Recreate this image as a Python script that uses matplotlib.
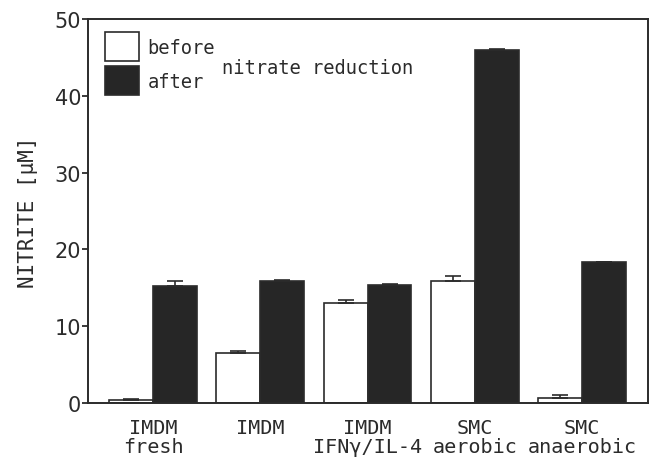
import numpy as np
import matplotlib
matplotlib.use("Agg")
import matplotlib.pyplot as plt
from matplotlib.patches import Patch

groups = ["IMDM\nfresh", "IMDM", "IMDM\nIFNγ/IL-4", "SMC\naerobic", "SMC\nanaerobic"]
before = [0.4, 6.5, 13.0, 15.9, 0.7]
before_err = [0.15, 0.3, 0.35, 0.6, 0.3]
after = [15.2, 15.9, 15.4, 45.9, 18.3]
after_err = [0.7, 0.1, 0.1, 0.15, 0.1]

ink = "#2b2b2b"
mono = "DejaVu Sans Mono"

fig = plt.figure(figsize=(6.53, 4.60), dpi=100)
ax = fig.add_axes([0.1348, 0.1217, 0.8575, 0.8348])

x = np.arange(len(groups))
w = 0.41

ax.bar(x - w / 2, before, width=w, color="white", edgecolor=ink, linewidth=1.2,
       yerr=[np.zeros(len(before)), before_err],
       error_kw=dict(ecolor=ink, elinewidth=1.2, capsize=6, capthick=1.2))
ax.bar(x + w / 2, after, width=w, color="#262626", edgecolor=ink, linewidth=1.2,
       yerr=[np.zeros(len(after)), after_err],
       error_kw=dict(ecolor=ink, elinewidth=1.2, capsize=6, capthick=1.2))

ax.set_xlim(-0.606, 4.615)
ax.set_ylim(0, 50)
ax.set_yticks([0, 10, 20, 30, 40, 50])
ax.set_xticks(x)
ax.set_xticklabels(groups, family=mono, fontsize=14.5, color=ink, linespacing=1.0)
ax.tick_params(axis="x", length=0, pad=11)
ax.tick_params(axis="y", direction="out", length=4, width=1.3, pad=1,
               labelsize=15, colors=ink)

for s in ax.spines.values():
    s.set_linewidth(1.4)
    s.set_color(ink)

ax.set_ylabel("NITRITE [µM]", family=mono, fontsize=15, color=ink, labelpad=12)

handles = [Patch(facecolor="white", edgecolor=ink, linewidth=1.2),
           Patch(facecolor="#262626", edgecolor=ink, linewidth=1.2)]
leg = ax.legend(handles, ["before", "after"], loc="upper left",
                bbox_to_anchor=(0.014, 0.99), frameon=False, borderpad=0,
                handlelength=1.8, handleheight=2.0, handletextpad=0.45,
                labelspacing=0.28, prop=dict(family=mono, size=13.5))
for t in leg.get_texts():
    t.set_color(ink)

ax.text(0.239, 0.875, "nitrate reduction", transform=ax.transAxes,
        family=mono, fontsize=13.5, color=ink, va="center", ha="left")

fig.savefig("out.png", dpi=100)
plt.close(fig)
